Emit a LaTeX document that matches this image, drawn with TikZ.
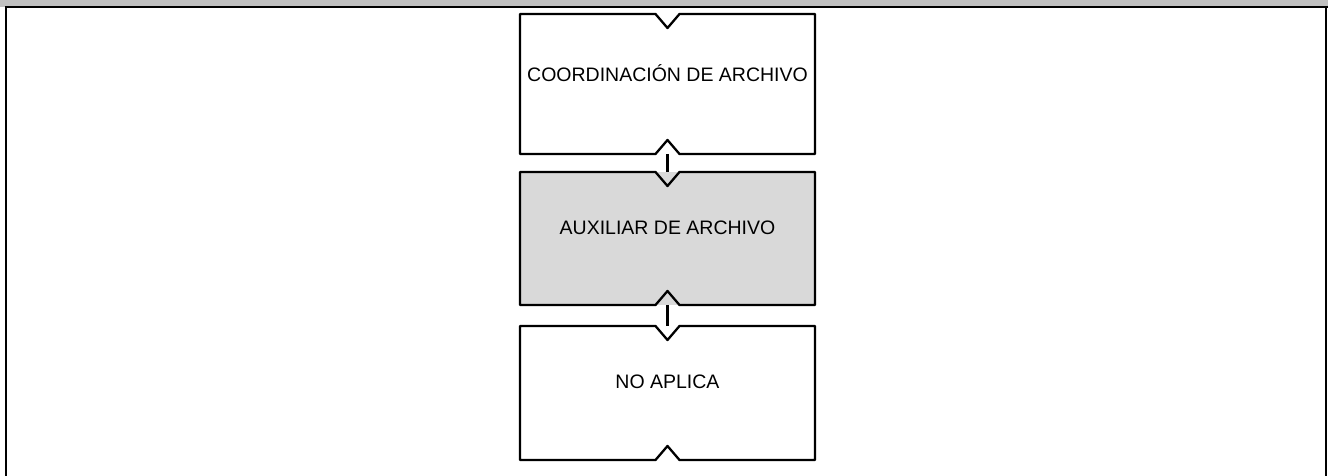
\documentclass[tikz,border=0pt]{standalone}
\usepackage{fontspec}
\setmainfont{Liberation Sans}
\definecolor{bandgrey}{HTML}{C0C0C0}
\definecolor{boxgrey}{HTML}{D9D9D9}
\newcommand\notchoutline[1]{%
  \draw[outline] (#1.north west) -- ([xshift=-12pt]#1.north) -- ([yshift=-14pt]#1.north) -- ([xshift=12pt]#1.north) -- (#1.north east)
    -- (#1.south east) -- ([xshift=12pt]#1.south) -- ([yshift=14pt]#1.south) -- ([xshift=-12pt]#1.south) -- (#1.south west) -- cycle;}
\begin{document}
\begin{tikzpicture}[x=1pt,y=1pt,
  boxbase/.style={draw=none,inner sep=0pt,outer sep=0pt,minimum width=295pt},
  outline/.style={draw=black,line width=2.3pt,line join=round},
  boxtext/.style={inner sep=0pt,font=\fontsize{19.5}{22}\selectfont},
  link/.style={draw=black,line width=3.5pt}]
\useasboundingbox (0,0) rectangle (1328,476);
% frame
\fill[bandgrey] (0,468.5) rectangle (1328,476);
\draw[line width=2pt] (5,468.5) -- (1328,468.5);
\draw[line width=2.5pt] (6.2,469) -- (6.2,0);
\draw[line width=2pt] (1326,469) -- (1326,0);
% boxes
\node[boxbase,fill=white,minimum height=140pt] (b1) at (667.5,392) {};
\node[boxbase,fill=boxgrey,minimum height=133pt] (b2) at (667.5,237.5) {};
\node[boxbase,fill=white,minimum height=134pt] (b3) at (667.5,83) {};
% connectors
\draw[link] (b1.south) -- (b2.north);
\draw[link] (b2.south) -- (b3.north);
% outlines
\notchoutline{b1}
\notchoutline{b2}
\notchoutline{b3}
% texts
\path (b1.center) ++(0,11) node[boxtext] (t1) {COORDINACIÓN DE ARCHIVO};
\path (b2.center) ++(0,11) node[boxtext] (t2) {AUXILIAR DE ARCHIVO};
\path (b3.center) ++(0,11) node[boxtext] (t3) {NO APLICA};
\end{tikzpicture}
\end{document}
